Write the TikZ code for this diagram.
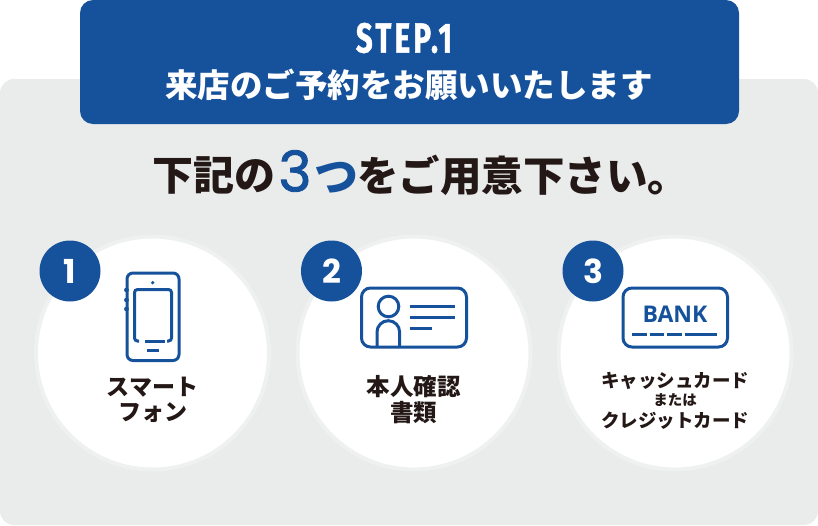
\documentclass[tikz,border=0pt]{standalone}
\usepackage{fontspec}
\setmainfont{Noto Sans CJK JP}
\newfontfamily\stepfont[FakeStretch=0.7,LetterSpace=8,FakeBold=1]{Fira Sans}
\newfontfamily\numfont{Poppins}
\newfontfamily\headfont[FakeBold=1.6]{Poppins}
\newfontfamily\bankfont{Open Sans}
\definecolor{st_blue}{RGB}{22, 82, 155}
\definecolor{st_gray}{RGB}{234, 236, 236}
\definecolor{st_halo}{RGB}{239, 241, 241}
\definecolor{st_ink}{RGB}{35, 24, 21}
\newcommand{\fs}[1]{\fontsize{#1}{#1}\selectfont}
\tikzstyle{txt}=[inner sep=0pt,outer sep=0pt,text=st_ink,font=\bfseries]
\tikzstyle{whitetxt}=[inner sep=0pt,outer sep=0pt,text=white,font=\bfseries]
\tikzstyle{badge}=[circle,fill=st_blue,inner sep=0pt,minimum size=61pt,
  text=white,font=\numfont\bfseries\fs{33}]
\tikzstyle{disc}=[circle,fill=white,draw=st_halo,line width=4pt,inner sep=0pt,
  minimum size=233pt]
\tikzstyle{icon}=[draw=st_blue,line width=3pt]
\begin{document}
\begin{tikzpicture}[x=1pt,y=-1pt]
    \useasboundingbox (0,0) rectangle (818,525);
    \fill [st_gray,rounded corners=14pt] (0,79) rectangle (818,525);
    \fill [st_blue,rounded corners=13pt] (80,0) rectangle (739,124);
    \node [style=whitetxt] (steplabel) at (404,38) {\stepfont\bfseries\fs{42}STEP.1};
    \node [style=whitetxt] (steptitle) at (409,85) {\fs{32.5}来店のご予約をお願いいたします};
    \node [style=txt,anchor=west] (headone) at (152,175) {\fs{41}下記の};
    \node [style=txt,text=st_blue,font=\headfont\fs{56}] (headnum) at (295,171) {3};
    \node [style=txt,text=st_blue] (headtsu) at (336,178) {\fs{44}つ};
    \node [style=txt,anchor=west] (headtwo) at (357,175) {\fs{41.5}をご用意下さい。};
    \node [style=disc] (discone) at (152.5,353) {};
    \node [style=disc] (disctwo) at (414,353) {};
    \node [style=disc] (discthree) at (675,353) {};
    \node [style=badge] (badgeone) at (70,271) {1};
    \node [style=badge] (badgetwo) at (331.5,271) {2};
    \node [style=badge] (badgethree) at (593,271) {3};
    \draw [style=icon,rounded corners=6pt] (127,273) rectangle (179,360.5);
    \draw [style=icon,rounded corners=3pt] (139,341) -- (134.5,341) -- (134.5,289.5) -- (171.5,289.5) -- (171.5,341) -- (167,341);
    \draw [style=icon] (145,341.5) -- (165,341.5);
    \draw [style=icon] (147,350) -- (159,350);
    \fill [st_blue] (152.7,282.7) circle (1.8pt);
    \foreach \y in {290,300,309}
        \fill [st_blue] (126.5,\y) circle (2.4pt);
    \draw [style=icon,rounded corners=9pt] (361.5,288) rectangle (466.5,347);
    \draw [style=icon] (388.5,306.5) circle (10.3pt);
    \draw [style=icon] (377,347) -- (377,332) arc (180:0:11.3pt) -- (399.6,347);
    \draw [style=icon] (409.5,306.5) -- (454.5,306.5);
    \draw [style=icon] (409.5,317.5) -- (454.5,317.5);
    \draw [style=icon] (409.5,328.5) -- (432,328.5);
    \draw [style=icon,rounded corners=9pt] (623,288) rectangle (727.5,347);
    \node [style=txt,text=st_blue,font=\bankfont\bfseries\fs{23}] (banklabel) at (675,314) {BANK};
    \draw [style=icon] (632,334) -- (646.5,334);
    \draw [style=icon] (649.5,334) -- (664,334);
    \draw [style=icon] (667,334) -- (681.5,334);
    \draw [style=icon] (684.5,334) -- (717,334);
    \node [style=txt] (phoneup) at (152.5,387) {\fs{23}スマート};
    \node [style=txt] (phonedown) at (152.5,413) {\fs{23}フォン};
    \node [style=txt] (idup) at (413.5,387) {\fs{23.5}本人確認};
    \node [style=txt] (iddown) at (413.5,413) {\fs{23.5}書類};
    \node [style=txt] (cardup) at (675,381) {\fs{18.5}キャッシュカード};
    \node [style=txt] (cardmid) at (675,400) {\fs{14.5}または};
    \node [style=txt] (carddown) at (675,421) {\fs{18.5}クレジットカード};
\end{tikzpicture}
\end{document}
